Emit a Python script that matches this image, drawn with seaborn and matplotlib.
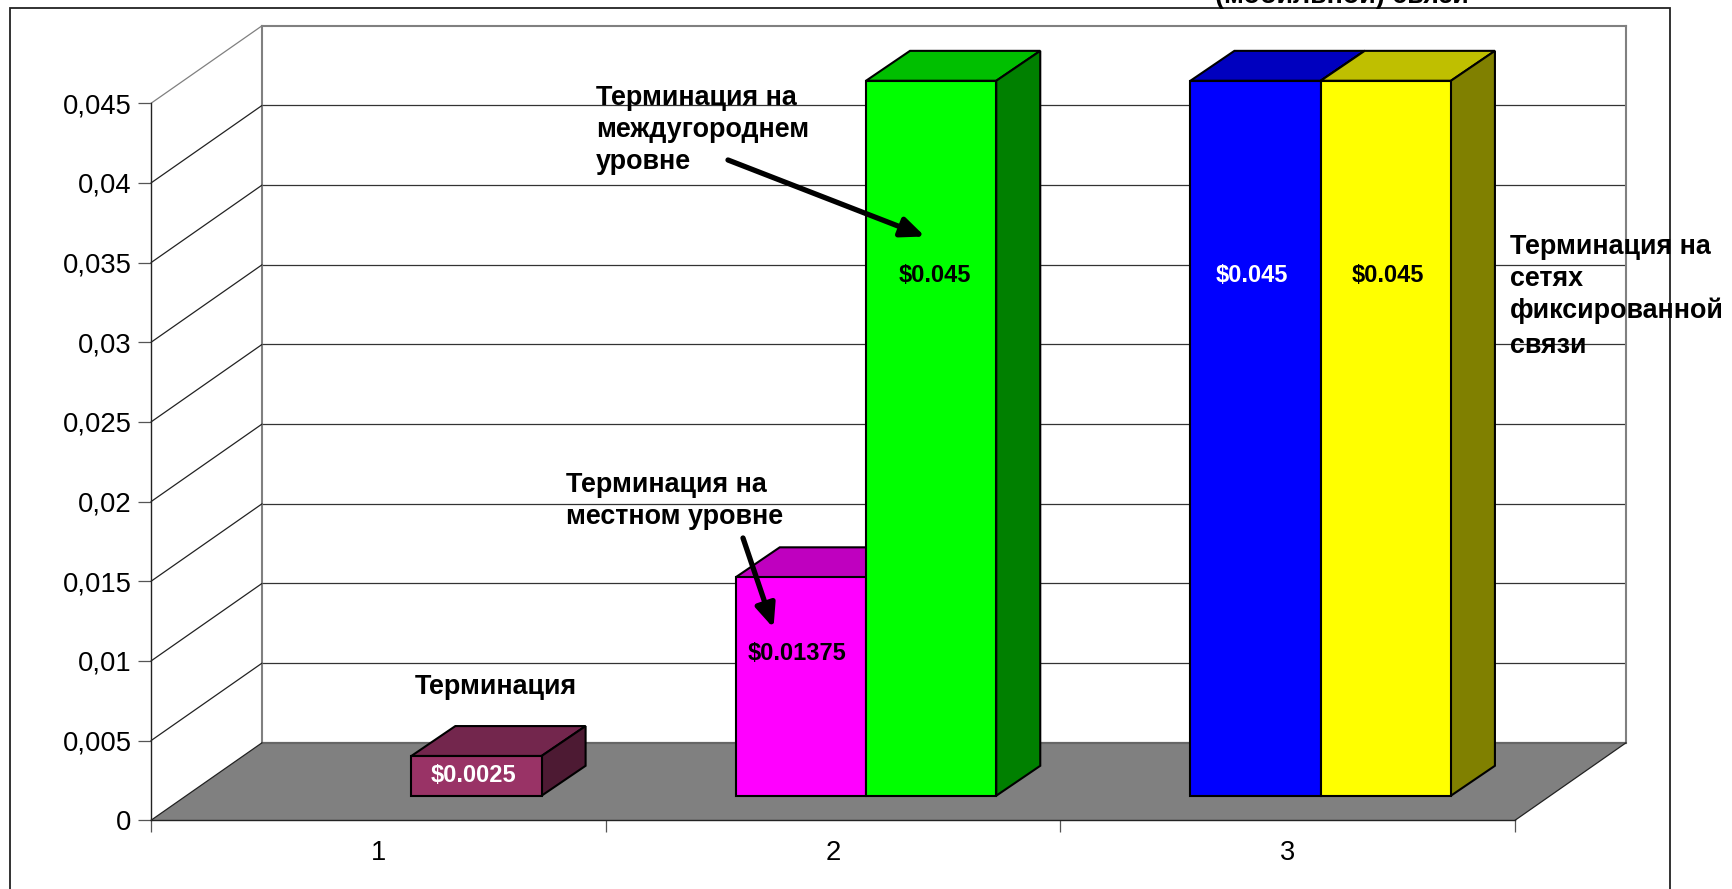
import matplotlib
matplotlib.use('Agg')
import numpy as np
import pandas as pd
import matplotlib.pyplot as plt
from matplotlib.patches import Polygon, Rectangle, FancyArrowPatch
import seaborn as sns

# Data
categories = ['1', '2', '3']
series_a_values = [np.nan, 0.01375, 0.045]
series_b_values = [0.0025, 0.045, 0.045]
series_a_colors = [None, '#FF00FF', '#0000FF']
series_b_colors = ['#993366', '#00FF00', '#FFFF00']
series_a_labels = [None, r'\$0.01375', r'\$0.045']
series_b_labels = [r'\$0.0025', r'\$0.045', r'\$0.045']
y_ticks = [0, 0.005, 0.01, 0.015, 0.02, 0.025, 0.03, 0.035, 0.04, 0.045]
y_tick_labels = ['0', '0,005', '0,01', '0,015', '0,02', '0,025', '0,03', '0,035', '0,04', '0,045']

# Layout, in pixels of the 1733x889 picture
W, H = 1733, 889
front_left, front_right = 151, 1515
front_zero, front_top = 820.3, 103.3
wall_shift = (111, 77.5)
bar_shift = (33, 24.6)
bar_depth = (44, 30)
bar_width = 0.573

# manual label placement: share of the bar height, shift in px
label_a_place = [None, (0.65, -4), (0.727, -4)]
label_b_place = [(0.5, -3), (0.727, 4), (0.727, 2)]

sns.set_style('white')
plt.rcParams['font.family'] = ['Liberation Sans', 'DejaVu Sans']
plt.rcParams['text.color'] = 'black'
plt.rcParams['xtick.labelcolor'] = 'black'
plt.rcParams['ytick.labelcolor'] = 'black'
tick_size = 19.7
note_size = 19.4
label_size = 17


def fx(x):
    return x / W


def fy(y):
    return 1 - y / H


def plane_axes(fig, shift, zorder):
    ax = fig.add_axes([fx(front_left + shift[0]), fy(front_zero - shift[1]),
                       (front_right - front_left) / W, (front_zero - front_top) / H])
    ax.set_xlim(-0.5, 2.5)
    ax.set_ylim(0, 0.045)
    ax.set_zorder(zorder)
    ax.patch.set_visible(False)
    return ax


def px_to_data(shift):
    return (shift[0] * 3 / (front_right - front_left),
            shift[1] * 0.045 / (front_zero - front_top))


fig = plt.figure(figsize=(W / 100, H / 100), dpi=100)
fig.add_artist(Rectangle((fx(10), fy(H + 20)), (1670 - 10) / W, (H + 20 - 8) / H,
                         transform=fig.transFigure, fill=False, edgecolor='#222222',
                         linewidth=1.3, zorder=-1))

# Back wall
ax_wall = plane_axes(fig, wall_shift, 0)
ax_wall.set_xticks([])
ax_wall.set_yticks(y_ticks[1:-1])
ax_wall.set_yticklabels([])
ax_wall.tick_params(left=False)
ax_wall.grid(axis='y', color='#333333', linewidth=0.9)
for name in ['left', 'right', 'top']:
    ax_wall.spines[name].set_visible(True)
    ax_wall.spines[name].set_color('#808080')
    ax_wall.spines[name].set_linewidth(1.5)
ax_wall.spines['bottom'].set_visible(False)

# Front plane: floor, side wall, ticks
ax_front = plane_axes(fig, (0, 0), 1)
wx, wy = px_to_data(wall_shift)
ax_front.add_patch(Polygon([(-0.5, 0), (2.5, 0), (2.5 + wx, wy), (-0.5 + wx, wy)],
                           facecolor='#808080', edgecolor='none', clip_on=False, zorder=1))
ax_front.plot([-0.5 + wx, 2.5 + wx], [wy, wy], color='#666666', lw=1.6, clip_on=False, zorder=2)
ax_front.plot([2.5, 2.5 + wx], [0, wy], color='#222222', lw=0.9, clip_on=False, zorder=2)
for tick in y_ticks:
    color = '#808080' if tick == y_ticks[-1] else '#222222'
    ax_front.plot([-0.5, -0.5 + wx], [tick, tick + wy], color=color, lw=0.9, clip_on=False, zorder=2)
ax_front.set_yticks(y_ticks)
ax_front.set_yticklabels(y_tick_labels)
ax_front.set_xticks([-0.5, 0.5, 1.5, 2.5])
ax_front.set_xticklabels([])
ax_front.set_xticks([0, 1, 2], labels=categories, minor=True)
ax_front.tick_params(axis='y', direction='out', length=9.4, width=0.9, color='#555555',
                     left=True, labelsize=tick_size, pad=4.5)
ax_front.tick_params(axis='x', which='major', direction='out', length=8.6, width=0.9,
                     color='#555555', bottom=True)
ax_front.tick_params(axis='x', which='minor', bottom=False, labelsize=tick_size, pad=12)
for name in ['top', 'right']:
    ax_front.spines[name].set_visible(False)
for name in ['left', 'bottom']:
    ax_front.spines[name].set_visible(True)
    ax_front.spines[name].set_color('#222222')
    ax_front.spines[name].set_linewidth(1.0)

# Bars
df = pd.concat([
    pd.DataFrame({'category': categories, 'series': 'a', 'value': series_a_values}),
    pd.DataFrame({'category': categories, 'series': 'b', 'value': series_b_values}),
], ignore_index=True)
ax_bars = plane_axes(fig, bar_shift, 2)
sns.barplot(data=df, x='category', y='value', hue='series', order=categories, hue_order=['a', 'b'],
            palette={'a': '#FF00FF', 'b': '#00FF00'}, saturation=1, width=bar_width, gap=0,
            errorbar=None, legend=False, edgecolor='black', linewidth=1.5, ax=ax_bars)
ax_bars.set_xlim(-0.5, 2.5)
# the bar plane sits a little further back, so its scale is slightly smaller
ax_bars.set_ylim(0, 0.04513)
ax_bars.axis('off')

dx, dy = px_to_data(bar_depth)


def shade(color, amount):
    rgb = np.array(matplotlib.colors.to_rgb(color)) * amount
    return tuple(rgb)


colors_by_series = [series_a_colors, series_b_colors]
labels_by_series = [series_a_labels, series_b_labels]
places_by_series = [label_a_place, label_b_place]
for s, container in enumerate(ax_bars.containers):
    for bar in container:
        x0, w, h = bar.get_x(), bar.get_width(), bar.get_height()
        if not h > 0:
            continue
        cat = int(round(x0 + w / 2))
        color = colors_by_series[s][cat]
        z = 3 + s
        bar.set_facecolor(color)
        bar.set_zorder(z + 0.5)
        bar.set_clip_on(False)
        ax_bars.add_patch(Polygon([(x0, h), (x0 + w, h), (x0 + w + dx, h + dy), (x0 + dx, h + dy)],
                                  facecolor=shade(color, 0.75), edgecolor='black', linewidth=1.5,
                                  clip_on=False, zorder=z))
        ax_bars.add_patch(Polygon([(x0 + w, 0), (x0 + w + dx, dy), (x0 + w + dx, h + dy), (x0 + w, h)],
                                  facecolor=shade(color, 0.5), edgecolor='black', linewidth=1.5,
                                  clip_on=False, zorder=z))
        share, nudge = places_by_series[s][cat]
        text_color = 'white' if color in ['#993366', '#0000FF'] else 'black'
        ax_bars.text(x0 + w / 2 + nudge * 3 / (front_right - front_left), h * share,
                     labels_by_series[s][cat], color=text_color, fontsize=label_size,
                     fontweight='bold', ha='center', va='center', zorder=6)

# Notes
notes = [
    ('Терминация на', 596, 98), ('междугороднем', 596, 130), ('уровне', 596, 162),
    ('Терминация на', 566, 485), ('местном уровне', 566, 517),
    ('Терминация', 414.5, 687),
    ('Терминация на', 1510, 247), ('сетях', 1510, 279), ('фиксированной', 1510, 311), ('связи', 1510, 346),
    ('(мобильной) связи', 1215, -4),
]
for text, x, y in notes:
    fig.text(fx(x), fy(y), text, fontsize=note_size, fontweight='bold', ha='left', va='center', zorder=7)

arrows = [((728, 160), (925, 236.5)), ((743, 538), (773.5, 628))]
for start, end in arrows:
    fig.add_artist(FancyArrowPatch(
        (fx(start[0]), fy(start[1])), (fx(end[0]), fy(end[1])), transform=fig.transFigure,
        arrowstyle='-|>,head_length=0.7,head_width=0.3', mutation_scale=20, color='black',
        linewidth=3.8, shrinkA=0, shrinkB=0, zorder=7))

fig.savefig('out.png', dpi=100)
